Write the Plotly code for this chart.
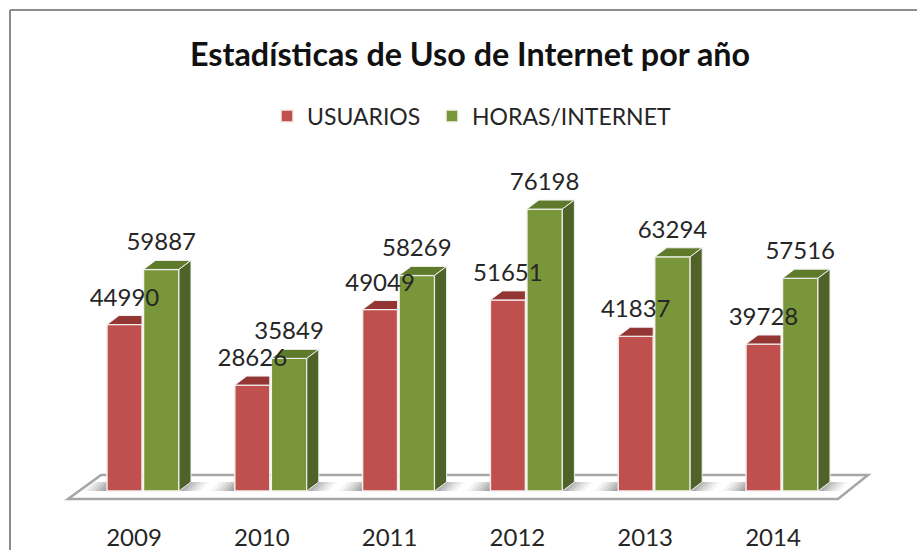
import plotly.graph_objects as go

years = ["2009", "2010", "2011", "2012", "2013", "2014"]
usuarios = [44990, 28626, 49049, 51651, 41837, 39728]
horas = [59887, 35849, 58269, 76198, 63294, 57516]

RED, GREEN = "#C0504D", "#7A963A"
RED_TOP, GREEN_TOP, GREEN_SIDE = "#943634", "#5F7A2B", "#4F6228"
TXT = "#262626"
FONT = "Lato"

W, H = 917, 550
MB = 29
PITCH = 127.8            # px per category
PXU = 0.0037             # px per value unit
X0_PX, BASE_PX = 134, 491
xr = [-X0_PX / PITCH, (W - X0_PX) / PITCH]
yr = [-(H - MB - BASE_PX) / PXU, BASE_PX / PXU]

def dx(p): return p / PITCH
def dy(p): return p / PXU

idx = list(range(len(years)))
R_OFF, R_W = dx(-27), dx(35)
G_OFF, G_W = dx(9.5), dx(35.5)
DX, DY = dx(12), dy(9)

fig = go.Figure()
fig.add_bar(x=idx, y=usuarios, name="USUARIOS", width=R_W, offset=R_OFF, legend="legend",
            marker=dict(color=RED, line=dict(color="#F4ECEC", width=1.5)), hoverinfo="skip")
fig.add_bar(x=idx, y=horas, name="HORAS/INTERNET", width=G_W, offset=G_OFF, legend="legend2",
            marker=dict(color=GREEN, line=dict(color="#F4F6EE", width=1.5)), hoverinfo="skip")

def poly(col, xs, ys):
    fig.add_scatter(x=xs, y=ys, mode="lines", fill="toself", fillcolor=col,
                    line=dict(color="#F2F2F2", width=1), showlegend=False, hoverinfo="skip")

xs, ys = [], []
for i, v in zip(idx, usuarios):
    a, b = i + R_OFF, i + R_OFF + R_W
    xs += [a, b, b, a + DX, a, None]
    ys += [v, v, v + DY, v + DY, v, None]
poly(RED_TOP, xs, ys)

xs, ys = [], []
for i, v in zip(idx, horas):
    a, b = i + G_OFF, i + G_OFF + G_W
    xs += [a, b, b + DX, a + DX, a, None]
    ys += [v, v, v + DY, v + DY, v, None]
poly(GREEN_TOP, xs, ys)

xs, ys = [], []
for i, v in zip(idx, horas):
    b = i + G_OFF + G_W
    xs += [b, b + DX, b + DX, b, b, None]
    ys += [v, v + DY, DY, 0, v, None]
poly(GREEN_SIDE, xs, ys)

LIFT = dy(25)
fig.add_scatter(x=[i + R_OFF + R_W / 2 for i in idx], y=[v + LIFT for v in usuarios],
                text=[str(v) for v in usuarios], mode="text", textposition="middle center",
                textfont=dict(family=FONT, size=24, color=TXT), showlegend=False, hoverinfo="skip")
fig.add_scatter(x=[i + G_OFF + G_W / 2 for i in idx], y=[v + LIFT for v in horas],
                text=[str(v) for v in horas], mode="text", textposition="middle center",
                textfont=dict(family=FONT, size=24, color=TXT), showlegend=False, hoverinfo="skip")

def path(pts):
    return "M " + " L ".join(f"{x},{y}" for x, y in pts) + " Z"

shapes = []
left, right = idx[0] + dx(-66), idx[-1] + dx(65)
shapes.append(dict(type="path", layer="below", xref="x", yref="y",
                   path=path([(left, dy(-8)), (right, dy(-8)), (right + dx(30), dy(16)), (left + dx(33), dy(16))]),
                   fillcolor="white", line=dict(color="#A6A6A6", width=2.5)))
for i in idx:
    ra = i + G_OFF + G_W
    la = i + R_OFF
    for k, alpha in [(30, 0.06), (26, 0.08), (22, 0.10), (18, 0.12), (14, 0.16), (10, 0.20)]:
        shapes.append(dict(type="path", layer="below", xref="x", yref="y",
                           path=path([(ra, 0), (ra + dx(k - 8), 0), (ra + dx(k), dy(9)), (ra + dx(8), dy(9))]),
                           fillcolor=f"rgba(80,80,80,{alpha})", line=dict(width=0)))
        shapes.append(dict(type="path", layer="below", xref="x", yref="y",
                           path=path([(la, 0), (la - dx(k - 6), 0), (la - dx(k - 14), dy(9)), (la + dx(4), dy(9))]),
                           fillcolor=f"rgba(80,80,80,{alpha})", line=dict(width=0)))
# outer chart border
top = 1 - 10 / (H - MB)
shapes.append(dict(type="line", xref="paper", yref="paper", x0=10 / W, x1=10 / W, y0=-1, y1=top,
                   line=dict(color="#8C8C8C", width=2)))
shapes.append(dict(type="line", xref="paper", yref="paper", x0=10 / W, x1=1, y0=top, y1=top,
                   line=dict(color="#8C8C8C", width=2)))

legend_common = dict(orientation="h", xanchor="left", y=1 - 116 / (H - MB), yanchor="middle",
                     font=dict(family=FONT, size=23, color=TXT), bgcolor="rgba(0,0,0,0)", itemwidth=30)

fig.update_layout(
    width=W, height=H, margin=dict(l=0, r=0, t=0, b=MB, pad=0, autoexpand=False),
    paper_bgcolor="white", plot_bgcolor="white",
    title=dict(text="<b>Estadísticas de Uso de Internet por año</b>", x=470 / W, xanchor="center",
               y=1 - 55 / H, yanchor="middle", font=dict(family=FONT, size=32.3, color="#111111")),
    legend=dict(x=267 / W, **legend_common),
    legend2=dict(x=432 / W, **legend_common),
    xaxis=dict(range=xr, tickvals=idx, ticktext=years, showgrid=False, zeroline=False, showline=False,
               ticks="", tickfont=dict(family=FONT, size=24, color=TXT), fixedrange=True, automargin=False),
    yaxis=dict(range=yr, visible=False, fixedrange=True, automargin=False),
    shapes=shapes, showlegend=True,
)
fig.write_html("out.html", config=dict(displayModeBar=False),
               post_script="document.body.style.margin='0';document.body.style.overflow='hidden';")
